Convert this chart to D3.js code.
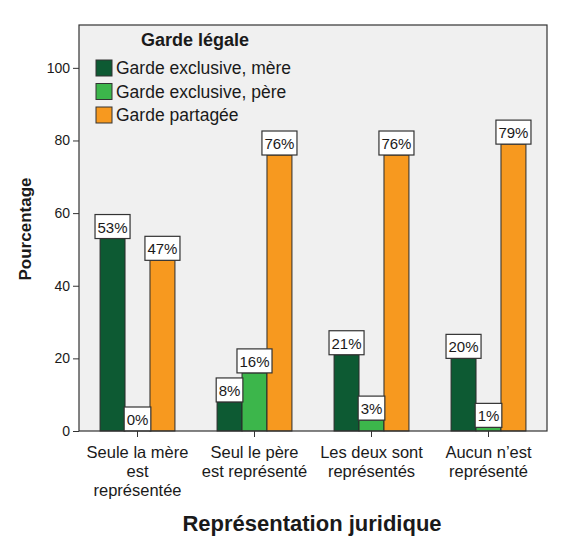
<!DOCTYPE html>
<html lang="fr">
<head>
<meta charset="UTF-8">
<title>Représentation juridique et garde légale</title>
<script src="https://cdnjs.cloudflare.com/ajax/libs/d3/7.8.5/d3.min.js"></script>
<style>
    body { margin: 0; background: #fff; font-family: 'Liberation Sans', Arial, sans-serif; }
    svg text { fill: #1a1a1a; }
</style>
</head>
<body>
<div id="chart"></div>
<script>
    // categories (x axis), each split on several lines
    const categories = [
        ["Seule la mère", "est", "représentée"],
        ["Seul le père", "est représenté"],
        ["Les deux sont", "représentés"],
        ["Aucun n\u2019est", "représenté"]
    ];
    const seriesNames = ["Garde exclusive, mère", "Garde exclusive, père", "Garde partagée"];
    const mereValues = [53, 8, 21, 20];
    const pereValues = [0, 16, 3, 1];
    const partageeValues = [47, 76, 76, 79];
    const yTicks = [0, 20, 40, 60, 80, 100];
    const colors = ["#0d5a33", "#3cb64b", "#f7991f"];

    const W = 570, H = 547;
    const plot = { left: 79, right: 547, top: 25, bottom: 431 };

    const svg = d3.select("#chart").append("svg")
        .attr("width", W).attr("height", H);

    const x0 = d3.scaleBand()
        .domain(d3.range(categories.length))
        .range([plot.left, plot.right])
        .paddingInner(0.36).paddingOuter(0.18);
    const x1 = d3.scaleBand()
        .domain(d3.range(seriesNames.length))
        .range([0, x0.bandwidth()]);
    const y = d3.scaleLinear()
        .domain([0, 111.8])
        .range([plot.bottom, plot.top]);

    // plot background
    svg.append("rect")
        .attr("x", plot.left).attr("y", plot.top)
        .attr("width", plot.right - plot.left)
        .attr("height", plot.bottom - plot.top)
        .attr("fill", "#f0f0f0");

    const allSeries = [mereValues, pereValues, partageeValues];

    const groups = svg.selectAll(".group")
        .data(categories.map((c, i) => i))
        .join("g")
        .attr("class", "group")
        .attr("transform", i => `translate(${x0(i)},0)`);

    groups.selectAll("rect.bar")
        .data(i => allSeries.map((s, k) => ({ k, v: s[i] })))
        .join("rect")
        .attr("class", "bar")
        .attr("x", d => x1(d.k))
        .attr("y", d => y(d.v))
        .attr("width", x1.bandwidth())
        .attr("height", d => y(0) - y(d.v))
        .attr("fill", d => colors[d.k])
        .attr("stroke", "#2b2b2b")
        .attr("stroke-width", 1);

    // frame
    svg.append("rect")
        .attr("x", plot.left).attr("y", plot.top)
        .attr("width", plot.right - plot.left)
        .attr("height", plot.bottom - plot.top)
        .attr("fill", "none")
        .attr("stroke", "#333")
        .attr("stroke-width", 1.2);

    // value labels in boxes
    const labels = groups.selectAll("g.lab")
        .data(i => allSeries.map((s, k) => ({ k, v: s[i] })))
        .join("g")
        .attr("class", "lab");
    labels.each(function (d) {
        const g = d3.select(this);
        const cx = x1(d.k) + x1.bandwidth() / 2;
        const t = g.append("text")
            .attr("x", cx)
            .attr("y", y(d.v) - 6)
            .attr("text-anchor", "middle")
            .attr("font-size", 15)
            .text(d.v + "%");
        const bb = t.node().getBBox();
        g.insert("rect", "text")
            .attr("x", cx - bb.width / 2 - 2.5)
            .attr("y", y(d.v) - 24)
            .attr("width", bb.width + 5)
            .attr("height", 24)
            .attr("fill", "#fff")
            .attr("stroke", "#333")
            .attr("stroke-width", 1.2);
    });

    // y axis
    const yAxis = svg.append("g")
        .attr("transform", `translate(${plot.left},0)`)
        .call(d3.axisLeft(y).tickValues(yTicks).tickSize(6).tickPadding(3));
    yAxis.select(".domain").remove();
    yAxis.selectAll("line").attr("stroke", "#333");
    yAxis.selectAll("text").attr("font-size", 14)
        .attr("font-family", "'Liberation Sans', Arial, sans-serif").attr("fill", "#1a1a1a");

    // x axis
    const xAxis = svg.append("g")
        .attr("transform", `translate(0,${plot.bottom})`)
        .call(d3.axisBottom(x0).tickSize(6).tickFormat(""));
    xAxis.select(".domain").remove();
    xAxis.selectAll("line").attr("stroke", "#333");
    xAxis.selectAll(".tick").each(function (i) {
        const t = d3.select(this).append("text")
            .attr("text-anchor", "middle")
            .attr("font-size", 16.5)
            .attr("font-family", "'Liberation Sans', Arial, sans-serif")
            .attr("fill", "#1a1a1a");
        categories[i].forEach((line, j) => {
            t.append("tspan").attr("x", 0).attr("y", 27 + j * 19).text(line);
        });
    });

    // axis titles
    svg.append("text")
        .attr("transform", "translate(31,229) rotate(-90)")
        .attr("text-anchor", "middle")
        .attr("font-size", 17)
        .attr("font-weight", "bold")
        .text("Pourcentage");
    svg.append("text")
        .attr("x", 312).attr("y", 531)
        .attr("text-anchor", "middle")
        .attr("font-size", 22)
        .attr("font-weight", "bold")
        .text("Représentation juridique");

    // legend
    const legend = svg.append("g").attr("transform", "translate(96,0)");
    legend.append("text")
        .attr("x", 45).attr("y", 46)
        .attr("font-size", 18)
        .attr("font-weight", "bold")
        .text("Garde légale");
    const item = legend.selectAll(".item")
        .data(seriesNames)
        .join("g")
        .attr("class", "item")
        .attr("transform", (d, i) => `translate(0,${60 + i * 23.5})`);
    item.append("rect")
        .attr("width", 16).attr("height", 16)
        .attr("fill", (d, i) => colors[i])
        .attr("stroke", "#333");
    item.append("text")
        .attr("x", 20).attr("y", 14)
        .attr("font-size", 17.5)
        .text(d => d);
</script>
</body>
</html>
